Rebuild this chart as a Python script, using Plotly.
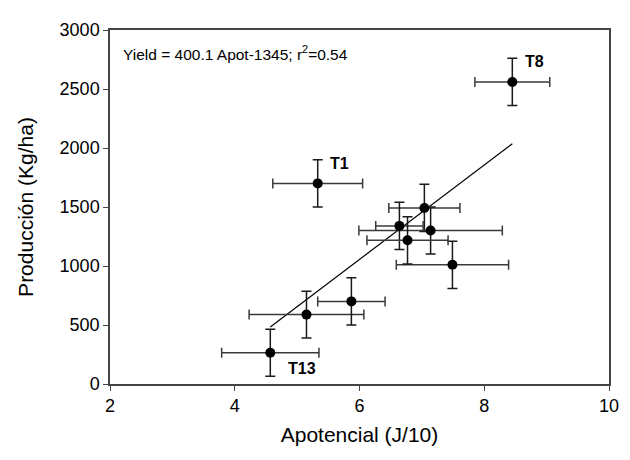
import plotly.graph_objects as go

# Data
labels = ["T1", "T8", "T13", "", "", "", "", "", "", ""]
apot = [5.33, 8.45, 4.57, 5.15, 5.87, 7.49, 7.04, 7.14, 6.64, 6.77]
yield_ = [1700, 2560, 265, 588, 700, 1010, 1492, 1301, 1340, 1218]
apot_err = [0.72, 0.60, 0.78, 0.92, 0.54, 0.90, 0.57, 1.15, 0.38, 0.65]
yield_err = [200, 200, 200, 198, 200, 200, 200, 200, 200, 200]
slope, intercept = 400.1, -1345
eq_text = "Yield = 400.1 Apot-1345; r<sup>2</sup>=0.54"
xticks = [2, 4, 6, 8, 10]
yticks = [0, 500, 1000, 1500, 2000, 2500, 3000]
label_offsets = {"T1": (22, 20), "T8": (22, 20), "T13": (32, -16)}

FONT = "Liberation Sans, Arial, sans-serif"

fig = go.Figure()

# Regression line across data range
xmin, xmax = min(apot), max(apot)
fig.add_trace(go.Scatter(
    x=[xmin, xmax], y=[slope * xmin + intercept, slope * xmax + intercept],
    mode="lines", line=dict(color="black", width=1.2), showlegend=False, hoverinfo="skip"))

fig.add_trace(go.Scatter(
    x=apot, y=yield_, mode="markers",
    marker=dict(color="black", size=10),
    error_x=dict(type="data", array=apot_err, visible=True, color="#3a3a3a", thickness=1.5, width=5),
    error_y=dict(type="data", array=yield_err, visible=True, color="#1a1a1a", thickness=1.5, width=5),
    showlegend=False))

for lab, xv, yv in zip(labels, apot, yield_):
    if lab:
        dx, dy = label_offsets[lab]
        fig.add_annotation(x=xv, y=yv, text=f"<b>{lab}</b>", showarrow=False,
                           xshift=dx, yshift=dy, font=dict(family=FONT, size=16, color="black"))

fig.add_annotation(xref="paper", yref="paper", x=0.022, y=0.935, xanchor="left", yanchor="middle",
                   text=eq_text, showarrow=False, font=dict(family=FONT, size=15.5, color="black"))

fig.update_layout(
    width=630, height=460,
    margin=dict(l=102, r=29, t=14, b=84),
    plot_bgcolor="white", paper_bgcolor="white",
    font=dict(family=FONT, size=18, color="black"),
    xaxis=dict(range=[2, 10], tickvals=xticks, ticks="outside", ticklen=5, tickcolor="#444",
               showline=True, linecolor="#444", linewidth=1.5, mirror=True, showgrid=False, zeroline=False,
               title=dict(text="Apotencial (J/10)", font=dict(size=21), standoff=12),
               tickfont=dict(size=18)),
    yaxis=dict(range=[0, 3000], tickvals=yticks, ticks="outside", ticklen=5, tickcolor="#444",
               showline=True, linecolor="#444", linewidth=1.5, mirror=True, showgrid=False, zeroline=False,
               title=dict(text="Producción (Kg/ha)", font=dict(size=21), standoff=20),
               tickfont=dict(size=18)),
)

fig.write_html("out.html")
